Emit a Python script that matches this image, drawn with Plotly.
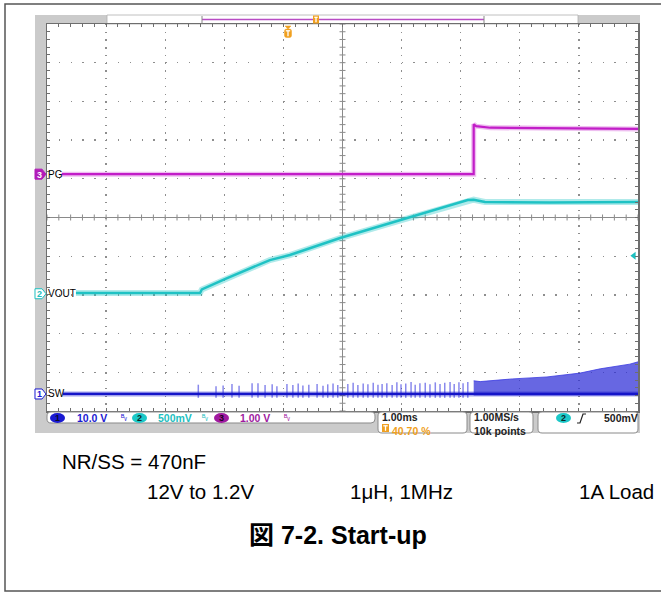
import plotly.graph_objects as go

W, H = 661, 593

# ---------------- data (screen divisions: x 0..10 at 1 ms/div, y -5..5) ----------------
pg_time = [0.25, 7.22, 7.22, 7.26, 7.5, 8.5, 10.0]
pg_level = [1.12, 1.12, 2.41, 2.36, 2.32, 2.31, 2.29]

vout_time = [0.49, 2.59, 2.62, 3.01, 3.77, 4.11, 4.96, 6.01, 7.12, 7.22, 7.41, 8.5, 10.0]
vout_level = [-1.95, -1.95, -1.86, -1.59, -1.10, -0.97, -0.53, -0.06, 0.45, 0.46, 0.40, 0.39, 0.40]

sw_time = [0.27, 10.0]
sw_level = [-4.56, -4.56]

sw_spike_time = [2.56, 2.86, 2.98, 3.13, 3.25, 3.47, 3.57, 3.69, 3.81, 3.89,
                 4.06, 4.16, 4.25, 4.33, 4.43, 4.57, 4.67, 4.75, 4.84, 4.92,
                 5.09, 5.18, 5.26, 5.35, 5.43, 5.52, 5.60, 5.67, 5.75, 5.84,
                 5.92, 5.99, 6.07, 6.16, 6.23, 6.31, 6.40, 6.48, 6.57, 6.65,
                 6.73, 6.82, 6.89, 6.97, 7.04, 7.12]
sw_spike_top = [-4.32, -4.36, -4.34, -4.30, -4.35, -4.28, -4.28, -4.33, -4.31, -4.36,
                -4.30, -4.33, -4.29, -4.34, -4.32, -4.30, -4.35, -4.31, -4.29, -4.33,
                -4.30, -4.27, -4.33, -4.29, -4.31, -4.27, -4.32, -4.30, -4.28, -4.33,
                -4.26, -4.31, -4.29, -4.25, -4.32, -4.28, -4.27, -4.31, -4.26, -4.30,
                -4.27, -4.25, -4.30, -4.26, -4.28, -4.25]
sw_spike_floor = -4.66

sw_env_time = [7.22, 7.33, 7.88, 8.46, 9.02, 9.36, 9.86, 10.0]
sw_env_top = [-4.22, -4.24, -4.17, -4.12, -4.02, -3.91, -3.79, -3.73]

trig_level = -0.99

channel_rows = [("3", "PG", 1.12, "#b21cb8"), ("2", "VOUT", -1.97, "#1cc0c0"), ("1", "SW", -4.56, "#1a1ad2")]

# ---------------- geometry helpers ----------------
PX0, PX1, PY0, PY1 = 47, 638, 24, 411


def px(x):
    return x / W


def py(y):
    return 1 - y / H


fig = go.Figure()

# traces
fig.add_trace(go.Scatter(x=pg_time, y=pg_level, mode="lines",
                         line=dict(color="rgba(200,40,205,0.3)", width=5), hoverinfo="skip"))
fig.add_trace(go.Scatter(x=pg_time, y=pg_level, mode="lines",
                         line=dict(color="#c21ec8", width=2.2), hoverinfo="skip"))

fig.add_trace(go.Scatter(x=vout_time, y=vout_level, mode="lines",
                         line=dict(color="rgba(30,196,196,0.35)", width=6), hoverinfo="skip"))
fig.add_trace(go.Scatter(x=vout_time, y=vout_level, mode="lines",
                         line=dict(color="#1fc2c4", width=2.5), hoverinfo="skip"))

# SW dense switching band
band_x = sw_env_time + sw_env_time[::-1]
band_y = sw_env_top + [sw_level[0] - 0.04] * len(sw_env_time)
fig.add_trace(go.Scatter(x=band_x, y=band_y, mode="lines", fill="toself",
                         fillcolor="rgba(45,45,215,0.72)", line=dict(width=0), hoverinfo="skip"))
fig.add_trace(go.Scatter(x=sw_env_time, y=sw_env_top, mode="lines",
                         line=dict(color="rgba(60,60,225,0.8)", width=1), hoverinfo="skip"))

# SW spikes
sx, sy = [], []
for t, top in zip(sw_spike_time, sw_spike_top):
    sx += [t, t, None]
    sy += [sw_spike_floor, top, None]
fig.add_trace(go.Scatter(x=sx, y=sy, mode="lines",
                         line=dict(color="rgba(40,40,220,0.55)", width=1.5), hoverinfo="skip"))

fig.add_trace(go.Scatter(x=sw_time, y=sw_level, mode="lines",
                         line=dict(color="rgba(25,25,205,0.4)", width=5), hoverinfo="skip"))
fig.add_trace(go.Scatter(x=sw_time, y=sw_level, mode="lines",
                         line=dict(color="#1515c8", width=2.2), hoverinfo="skip"))

# trigger level marker
fig.add_trace(go.Scatter(x=[9.93], y=[trig_level], mode="markers",
                         marker=dict(symbol="triangle-left", size=7, color="#1cc0c0"), hoverinfo="skip"))

GRID = "#8e8e8e"
BORDER = "#6e6e6e"
fig.update_layout(
    width=W, height=H, autosize=False,
    margin=dict(l=0, r=0, t=0, b=0),
    paper_bgcolor="white", plot_bgcolor="rgba(0,0,0,0)",
    showlegend=False, hovermode=False,
    xaxis=dict(domain=[px(PX0), px(PX1)], range=[0, 10], dtick=1, tick0=0,
               showgrid=True, gridcolor=GRID, gridwidth=1.3, griddash="1.3px,6.44px",
               zeroline=False, showline=True, linecolor=BORDER, linewidth=1.5, mirror="ticks",
               ticks="inside", ticklen=3, tickcolor=BORDER, tickwidth=1, showticklabels=False,
               minor=dict(dtick=0.2, tick0=0, ticks="inside", ticklen=3, tickcolor=BORDER, showgrid=False),
               fixedrange=True),
    yaxis=dict(domain=[py(PY1), py(PY0)], range=[-5, 5], dtick=1, tick0=0,
               showgrid=True, gridcolor=GRID, gridwidth=1.3, griddash="1.3px,10.52px",
               zeroline=False, showline=True, linecolor=BORDER, linewidth=1.5, mirror="ticks",
               ticks="inside", ticklen=3, tickcolor=BORDER, tickwidth=1, showticklabels=False,
               minor=dict(dtick=0.2, tick0=0, ticks="inside", ticklen=3, tickcolor=BORDER, showgrid=False),
               fixedrange=True),
)

shapes = []


def rect(x0, y0, x1, y1, fill, line=None, lw=0, layer="below"):
    shapes.append(dict(type="rect", xref="paper", yref="paper", x0=px(x0), x1=px(x1), y0=py(y1), y1=py(y0),
                       fillcolor=fill, line=dict(color=line or fill, width=lw), layer=layer))


def seg(x0, y0, x1, y1, color, width=1, layer="above"):
    shapes.append(dict(type="line", xref="paper", yref="paper", x0=px(x0), x1=px(x1), y0=py(y0), y1=py(y1),
                       line=dict(color=color, width=width), layer=layer))


def path(points, fill, line, lw=1, layer="above", close=True):
    d = "M " + " L ".join(f"{px(a):.5f},{py(b):.5f}" for a, b in points)
    if close:
        d += " Z"
    shapes.append(dict(type="path", xref="paper", yref="paper", path=d, fillcolor=fill,
                       line=dict(color=line, width=lw), layer=layer))


def rrect(x0, y0, x1, y1, r, fill, line, lw=1):
    P = lambda a, b: f"{px(a):.5f},{py(b):.5f}"
    d = (f"M {P(x0 + r, y0)} L {P(x1 - r, y0)} Q {P(x1, y0)} {P(x1, y0 + r)} "
         f"L {P(x1, y1 - r)} Q {P(x1, y1)} {P(x1 - r, y1)} L {P(x0 + r, y1)} "
         f"Q {P(x0, y1)} {P(x0, y1 - r)} L {P(x0, y0 + r)} Q {P(x0, y0)} {P(x0 + r, y0)} Z")
    shapes.append(dict(type="path", xref="paper", yref="paper", path=d, fillcolor=fill,
                       line=dict(color=line, width=lw), layer="above"))


def t_icon(x0, y0, x1, y1, rounded=False):
    if rounded:
        rrect(x0, y0, x1, y1, 2, "#f0a020", "#f0a020", 0.5)
    else:
        rect(x0, y0, x1, y1, "#f0a020", layer="above")
    cx = (x0 + x1) / 2
    seg(x0 + 1.3, y0 + 1.8, x1 - 1.3, y0 + 1.8, "white", 1.3)
    seg(cx, y0 + 1.8, cx, y1 - 1.2, "white", 1.3)


# outer document frame
shapes.append(dict(type="rect", xref="paper", yref="paper", x0=px(5), x1=px(680), y0=py(591), y1=py(4),
                    fillcolor="rgba(0,0,0,0)", line=dict(color="#555555", width=1.5), layer="below"))
# scope grey bezel + white screen
rect(35, 15, 640, 433, "#cbcbcb")
rect(PX0, PY0, PX1, PY1, "white")
# record bar
rect(107, 15, 578, 24, "white", "#b0b0b0", 0.8)
seg(202, 19.5, 484, 19.5, "#b84cc4", 1.5)
seg(202, 16, 202, 23.5, "#888888", 1)
seg(484, 16, 484, 23.5, "#888888", 1)

# centre cross-hair with ticks (drawn in data coords)
shapes.append(dict(type="line", xref="x", yref="y", x0=5, x1=5, y0=-5, y1=5,
                   line=dict(color="#8a8a8a", width=1), layer="below"))
shapes.append(dict(type="line", xref="x", yref="y", x0=0, x1=10, y0=0, y1=0,
                   line=dict(color="#8a8a8a", width=1), layer="below"))
tick_d = ""
dx = 3 / 59.1
dy = 3 / 38.7
for i in range(51):
    v = i * 0.2
    tick_d += f"M {v:.3f},{-dy:.4f} L {v:.3f},{dy:.4f} "
    tick_d += f"M {5 - dx:.4f},{v - 5:.3f} L {5 + dx:.4f},{v - 5:.3f} "
shapes.append(dict(type="path", xref="x", yref="y", path=tick_d, line=dict(color="#8a8a8a", width=1), layer="below"))

# left channel markers
for num, lab, lev, col in channel_rows:
    yc = 217.5 - lev * 38.7
    fillc = col if num == "3" else "white"
    path([(35, yc - 5), (42, yc - 5), (46, yc), (42, yc + 5), (35, yc + 5)], fillc, col, 1)

# status bar boxes
rrect(47, 412, 375, 423, 4, "white", "#8a8a8a", 1)
rrect(378, 412, 467, 433, 4, "white", "#8a8a8a", 1)
rrect(470, 412, 533, 433, 4, "white", "#8a8a8a", 1)
rrect(538, 412, 638, 433, 4, "white", "#8a8a8a", 1)
for x0, x1, col in [(50, 65, "#1a1ad2"), (132, 147, "#1cc8c8"), (214, 229, "#a01aa0"), (556, 571, "#1cc8c8")]:
    shapes.append(dict(type="circle", xref="paper", yref="paper", x0=px(x0), x1=px(x1), y0=py(423), y1=py(413),
                       fillcolor=col, line=dict(color=col, width=0), layer="above"))
# trigger T icons
t_icon(313, 15.5, 319, 23.5)
path([(285, 26), (291, 26), (288, 29)], "#f0a020", "#f0a020", 0.5)
t_icon(284.5, 29, 291.5, 37.5, rounded=True)
t_icon(382, 424, 389, 432)
# rising edge symbol
path([(577, 423), (580, 423), (583, 414), (586, 414)], "rgba(0,0,0,0)", "#222222", 1.2, close=False)

fig.update_layout(shapes=shapes)


def txt(x, y, s, size, color="black", bold=False, xanchor="left", family="Liberation Sans, Arial, sans-serif",
        yanchor="middle"):
    if bold:
        s = f"<b>{s}</b>"
    fig.add_annotation(x=px(x), y=py(y), xref="paper", yref="paper", text=s, showarrow=False,
                       xanchor=xanchor, yanchor=yanchor, borderpad=0,
                       font=dict(size=size, color=color, family=family))


SF = "Liberation Sans, Arial, sans-serif"
# channel labels
for num, lab, lev, col in channel_rows:
    yc = 217.5 - lev * 38.7
    txt(47, yc, lab, 10, "black")
    txt(39.5, yc + 0.5, num, 9, "white" if num == "3" else col, bold=True, xanchor="center")

# status texts
txt(57.5, 418.3, "1", 9, "#0a0a30", bold=True, xanchor="center")
txt(76, 418, "10.0 V", 10.5, "#1a1ad2", bold=True, family=SF)
txt(120, 417, "ᴮᵥ", 8, "#1a1ad2")
txt(139.5, 418.3, "2", 9, "#0a2828", bold=True, xanchor="center")
txt(157, 418, "500mV", 10.5, "#1cc0c0", bold=True, family=SF)
txt(201, 417, "ᴮᵥ", 8, "#1cc0c0")
txt(221.5, 418.3, "3", 9, "#200020", bold=True, xanchor="center")
txt(239, 418, "1.00 V", 10.5, "#a01aa0", bold=True, family=SF)
txt(283, 417, "ᴮᵥ", 8, "#a01aa0")

txt(381, 423.5, "1.00ms", 10.5, "#222222", bold=True, family=SF, yanchor="bottom")
txt(391, 423.5, "40.70 %", 10.5, "#f0a020", bold=True, family=SF, yanchor="top")
txt(473, 423.5, "1.00MS/s", 10.5, "#222222", bold=True, family=SF, yanchor="bottom")
txt(473, 423.5, "10k points", 10.5, "#222222", bold=True, family=SF, yanchor="top")
txt(563.5, 418.3, "2", 9, "#0a2828", bold=True, xanchor="center")
txt(603, 418, "500mV", 10.5, "#222222", bold=True, family=SF)

# caption texts
txt(61, 461, "NR/SS = 470nF", 20.5)
txt(146, 491, "12V to 1.2V", 20.5)
txt(349, 491, "1μH, 1MHz", 20.5)
txt(578, 491, "1A Load", 20.5)
txt(338, 535, "図 7-2. Start-up", 25, bold=True, xanchor="center",
    family="Liberation Sans, Arial, Noto Sans CJK JP, sans-serif")

fig.write_html("out.html", post_script="document.body.style.margin='0';",
               config={"displayModeBar": False, "staticPlot": True})
